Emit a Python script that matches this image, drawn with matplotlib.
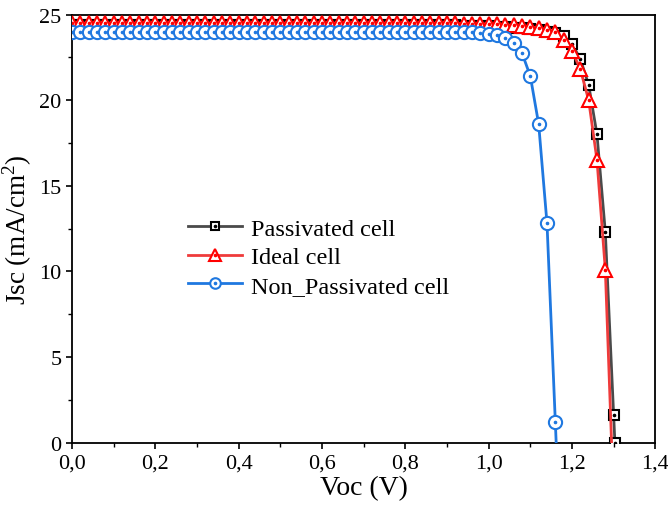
import matplotlib
matplotlib.use('Agg')
import matplotlib.pyplot as plt
from matplotlib.ticker import MultipleLocator, FuncFormatter
from matplotlib.legend_handler import HandlerTuple

plt.rcParams['font.family'] = ['Liberation Serif', 'DejaVu Serif']
plt.rcParams['mathtext.fontset'] = 'custom'
plt.rcParams['mathtext.rm'] = 'Liberation Serif'

# Voltage grid (V), one point per marker
voc = [0.00, 0.02, 0.04, 0.06, 0.08, 0.10, 0.12, 0.14, 0.16, 0.18,
       0.20, 0.22, 0.24, 0.26, 0.28, 0.30, 0.32, 0.34, 0.36, 0.38,
       0.40, 0.42, 0.44, 0.46, 0.48, 0.50, 0.52, 0.54, 0.56, 0.58,
       0.60, 0.62, 0.64, 0.66, 0.68, 0.70, 0.72, 0.74, 0.76, 0.78,
       0.80, 0.82, 0.84, 0.86, 0.88, 0.90, 0.92, 0.94, 0.96, 0.98,
       1.00, 1.02, 1.04, 1.06, 1.08, 1.10, 1.12, 1.14, 1.16, 1.18,
       1.20, 1.22, 1.24, 1.26, 1.28, 1.30]

# Jsc values (mA/cm2)
jsc_passivated = [24.40, 24.40, 24.40, 24.40, 24.40, 24.40, 24.40, 24.40, 24.40, 24.40,
                  24.40, 24.40, 24.40, 24.40, 24.40, 24.40, 24.40, 24.40, 24.40, 24.40,
                  24.40, 24.40, 24.40, 24.40, 24.40, 24.40, 24.40, 24.40, 24.40, 24.40,
                  24.40, 24.40, 24.40, 24.40, 24.40, 24.40, 24.40, 24.40, 24.40, 24.40,
                  24.40, 24.40, 24.39, 24.39, 24.38, 24.38, 24.37, 24.36, 24.35, 24.34,
                  24.32, 24.30, 24.27, 24.24, 24.20, 24.15, 24.09, 24.01, 23.90, 23.72,
                  23.30, 22.40, 20.90, 18.00, 12.30, 1.60]
jsc_ideal = [24.50, 24.50, 24.50, 24.50, 24.50, 24.50, 24.50, 24.50, 24.50, 24.50,
             24.50, 24.50, 24.50, 24.50, 24.50, 24.50, 24.50, 24.50, 24.50, 24.50,
             24.50, 24.50, 24.50, 24.50, 24.50, 24.50, 24.50, 24.50, 24.50, 24.50,
             24.50, 24.50, 24.50, 24.50, 24.50, 24.50, 24.50, 24.50, 24.50, 24.50,
             24.50, 24.50, 24.50, 24.49, 24.49, 24.48, 24.48, 24.47, 24.46, 24.46,
             24.45, 24.43, 24.40, 24.37, 24.33, 24.28, 24.21, 24.12, 23.98, 23.50,
             22.90, 21.80, 20.00, 16.50, 10.10]
jsc_non_passivated = [24.00, 24.00, 24.00, 24.00, 24.00, 24.00, 24.00, 24.00, 24.00, 24.00,
                      24.00, 24.00, 24.00, 24.00, 24.00, 24.00, 24.00, 24.00, 24.00, 24.00,
                      24.00, 24.00, 24.00, 24.00, 24.00, 24.00, 24.00, 24.00, 24.00, 24.00,
                      24.00, 24.00, 24.00, 24.00, 24.00, 24.00, 24.00, 24.00, 24.00, 24.00,
                      24.00, 24.00, 24.00, 24.00, 24.00, 24.00, 23.99, 23.98, 23.96, 23.92,
                      23.86, 23.78, 23.65, 23.35, 22.75, 21.40, 18.60, 12.80, 1.20]

# Open-circuit end points (V, Jsc = 0)
voc_end = [1.303, 1.295, 1.162]
end_has_marker = [True, False, False]

labels = ['Passivated cell', 'Ideal cell', 'Non_Passivated cell']
line_colors = ['#4a4a4a', '#ef3b3b', '#1f78e0']
marker_colors = ['#000000', '#ff0000', '#1f78e0']
markers = ['s', '^', 'o']
marker_sizes = [7.5, 10, 9.5]

fig = plt.figure(figsize=(6.68, 5.10), dpi=100)
ax = fig.add_axes([0.108, 0.13, 0.873, 0.8395])

handles = []
series = [jsc_passivated, jsc_ideal, jsc_non_passivated]
for i, jsc in enumerate(series):
    x = voc[:len(jsc)]
    y = list(jsc)
    # line goes down to the open-circuit voltage
    x_line = x + [voc_end[i]]
    y_line = y + [0.0]
    ax.plot(x_line, y_line, color=line_colors[i], lw=2.0, zorder=2 + i)
    x_mk = x + ([voc_end[i]] if end_has_marker[i] else [])
    y_mk = y + ([0.0] if end_has_marker[i] else [])
    ax.plot(x_mk, y_mk, ls='none', marker=markers[i], ms=marker_sizes[i],
            mfc='white', mec=marker_colors[i], mew=1.5, zorder=3 + i)
    ax.plot(x_mk, y_mk, ls='none', marker='o', ms=1.6, color=marker_colors[i],
            zorder=3.5 + i)
    # legend handle: line + open marker + centre dot
    h_line, = ax.plot([], [], color=line_colors[i], lw=2.0, marker=markers[i],
                      ms=marker_sizes[i] * 0.8, mfc='white', mec=marker_colors[i], mew=1.5)
    h_dot, = ax.plot([], [], ls='none', marker='o', ms=1.6, color=marker_colors[i])
    handles.append((h_line, h_dot))

ax.set_xlim(0, 1.4)
ax.set_ylim(0, 25)
ax.xaxis.set_major_locator(MultipleLocator(0.2))
ax.xaxis.set_minor_locator(MultipleLocator(0.1))
ax.yaxis.set_major_locator(MultipleLocator(5))
ax.yaxis.set_minor_locator(MultipleLocator(2.5))
ax.xaxis.set_major_formatter(FuncFormatter(lambda v, p: f'{v:.1f}'.replace('.', ',')))
ax.yaxis.set_major_formatter(FuncFormatter(lambda v, p: f'{v:.0f}'))
ax.tick_params(which='major', direction='out', length=4.5, width=1.2, labelsize=16, pad=3)
ax.tick_params(which='minor', direction='out', length=3, width=1.0)
for s in ax.spines.values():
    s.set_linewidth(1.3)

ax.set_xlabel('Voc (V)', fontsize=20, labelpad=2)
ax.set_ylabel('Jsc (mA/cm$^2$)', fontsize=19.5, labelpad=4)

ax.legend(handles, labels, handler_map={tuple: HandlerTuple(ndivide=1)},
          loc='upper left', bbox_to_anchor=(0.199, 0.525), frameon=False,
          fontsize=17.5, handlelength=2.2, handletextpad=0.4, labelspacing=0.26,
          borderpad=0, borderaxespad=0)

fig.savefig('out.png', dpi=100)
